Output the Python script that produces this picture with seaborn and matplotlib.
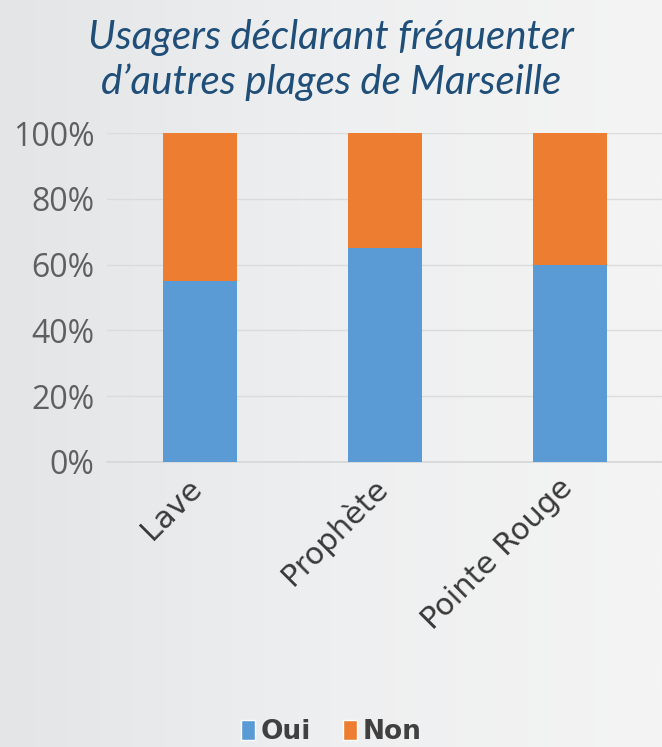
import numpy as np
import pandas as pd
import matplotlib
matplotlib.use("Agg")
import matplotlib.pyplot as plt
from matplotlib.patches import Patch
from matplotlib.ticker import FuncFormatter
from matplotlib.transforms import ScaledTranslation
import seaborn as sns

# Survey shares (%) per beach
plages = ["Lave", "Prophète", "Pointe Rouge"]
oui = [55, 65, 60]
non = [45, 35, 40]
series = ["Oui", "Non"]
yticks = [0, 20, 40, 60, 80, 100]
title_lines = ["Usagers déclarant fréquenter", "d’autres plages de Marseille"]

blue = "#5B9BD5"
orange = "#ED7D31"

sns.set_theme(style="white")
plt.rcParams["font.family"] = ["DejaVu Sans"]

df = pd.DataFrame({"plage": plages, "Oui": oui, "Non": non})
df["total"] = df["Oui"] + df["Non"]

fig = plt.figure(figsize=(6.62, 7.47), dpi=100)

# soft light-grey backdrop, slightly darker on the left
bg = fig.add_axes([0, 0, 1, 1], zorder=-10)
grad = np.linspace(0, 1, 256)[None, :]
cmap = matplotlib.colors.LinearSegmentedColormap.from_list("bg", ["#e4e5e7", "#eeeff0", "#f4f4f4"])
bg.imshow(grad, aspect="auto", cmap=cmap, extent=[0, 1, 0, 1])
bg.set_axis_off()

ax = fig.add_axes([107 / 662, 285 / 747, 555 / 662, 329 / 747])
ax.set_facecolor("none")

sns.barplot(data=df, x="plage", y="total", color=orange, width=0.4,
            saturation=1, linewidth=0, ax=ax, zorder=3)
sns.barplot(data=df, x="plage", y="Oui", color=blue, width=0.4,
            saturation=1, linewidth=0, ax=ax, zorder=3)

ax.set_xlim(-0.5, 2.5)
ax.set_ylim(0, 100)
ax.set_yticks(yticks)
ax.yaxis.set_major_formatter(FuncFormatter(lambda v, p: f"{int(v)}%"))
ax.grid(axis="y", color="#dadbdc", linewidth=1.0, zorder=0)
ax.set_xlabel("")
ax.set_ylabel("")
for s in ["top", "right", "left"]:
    ax.spines[s].set_visible(False)
ax.spines["bottom"].set_color("#d6d7d8")
ax.tick_params(axis="both", length=0)
ax.tick_params(axis="y", pad=9, labelsize=23, labelcolor="#5f5f5f")
for lab in ax.get_yticklabels():
    lab.set_fontfamily(["Open Sans", "DejaVu Sans"])
ax.set_xticks(range(len(plages)))
ax.set_xticklabels(plages, rotation=45, ha="right", rotation_mode="anchor",
                   fontsize=22, color="#3a3a3a")
ax.tick_params(axis="x", pad=8)
shift = ScaledTranslation(-12 / 100, 0, fig.dpi_scale_trans)
for lab in ax.get_xticklabels():
    lab.set_transform(lab.get_transform() + shift)

fig.text(0.5, 0.950, title_lines[0], ha="center", va="center", fontsize=29,
         style="italic", color="#1F4E79", family=["Lato", "DejaVu Sans"])
fig.text(0.5, 0.890, title_lines[1], ha="center", va="center", fontsize=29,
         style="italic", color="#1F4E79", family=["Lato", "DejaVu Sans"])

handles = [Patch(facecolor=blue, label=series[0]),
           Patch(facecolor=orange, label=series[1])]
leg = fig.legend(handles=handles, loc="center", bbox_to_anchor=(0.5, 0.02),
                 ncol=2, frameon=False, handlelength=0.55, handleheight=0.8,
                 handletextpad=0.2, columnspacing=1.2,
                 prop={"weight": "bold", "size": 19, "family": "DejaVu Sans"})
for t in leg.get_texts():
    t.set_color("#404040")

fig.savefig("out.png", dpi=100)
